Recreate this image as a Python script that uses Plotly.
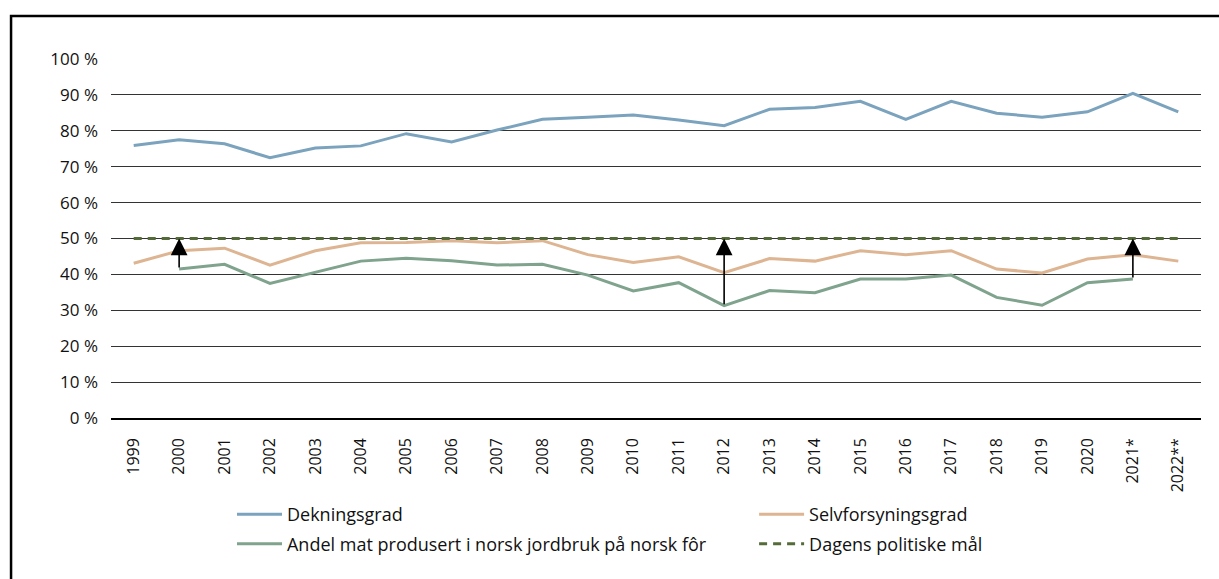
import plotly.graph_objects as go

years = ["1999", "2000", "2001", "2002", "2003", "2004", "2005", "2006", "2007", "2008",
         "2009", "2010", "2011", "2012", "2013", "2014", "2015", "2016", "2017", "2018",
         "2019", "2020", "2021*", "2022**"]

dekningsgrad = [75.9, 77.5, 76.4, 72.5, 75.2, 75.8, 79.2, 76.9, 80.2, 83.2,
                83.8, 84.4, 83.0, 81.4, 86.0, 86.5, 88.2, 83.2, 88.2, 84.9,
                83.8, 85.3, 90.4, 85.3]

selvforsyningsgrad = [43.1, 46.6, 47.3, 42.6, 46.6, 48.8, 48.9, 49.4, 48.8, 49.4,
                      45.5, 43.3, 44.9, 40.5, 44.4, 43.7, 46.6, 45.5, 46.6, 41.5,
                      40.4, 44.3, 45.5, 43.7]

andel_norsk_for = [None, 41.5, 42.8, 37.5, 40.5, 43.7, 44.5, 43.8, 42.6, 42.8,
                   39.8, 35.4, 37.7, 31.3, 35.5, 34.9, 38.7, 38.7, 39.8, 33.6,
                   31.4, 37.7, 38.7, None]

politisk_maal = [50.0] * 24

arrow_years = ["2000", "2012", "2021*"]

y_ticks = [0, 10, 20, 30, 40, 50, 60, 70, 80, 90, 100]
y_tick_labels = [f"{v} %" for v in y_ticks]

FONT = "Open Sans, Liberation Sans, sans-serif"

fig = go.Figure()
fig.add_trace(go.Scatter(x=years, y=dekningsgrad, name="Dekningsgrad", mode="lines",
                         line=dict(color="#7BA3BE", width=3), legend="legend", legendgroup="a"))
fig.add_trace(go.Scatter(x=years, y=selvforsyningsgrad, name="Selvforsyningsgrad", mode="lines",
                         line=dict(color="#DDB592", width=3), legend="legend2", legendgroup="b"))
fig.add_trace(go.Scatter(x=years, y=andel_norsk_for,
                         name="Andel mat produsert i norsk jordbruk på norsk fôr", mode="lines",
                         line=dict(color="#7FA38D", width=3), legend="legend", legendgroup="c"))
fig.add_trace(go.Scatter(x=years, y=politisk_maal, name="Dagens politiske mål", mode="lines",
                         line=dict(color="#556B3A", width=3, dash="8px,6px"),
                         legend="legend2", legendgroup="d"))

for yr in arrow_years:
    i = years.index(yr)
    fig.add_annotation(x=i, y=politisk_maal[i], ax=i, ay=andel_norsk_for[i],
                       xref="x", yref="y", axref="x", ayref="y",
                       showarrow=True, arrowhead=2, arrowsize=2.1, arrowwidth=1.6,
                       arrowcolor="#000000", text="")

# decorative frame (top and left border visible)
fig.add_shape(type="rect", xref="paper", yref="paper",
              x0=-0.0917, x1=1.05, y0=-0.6, y1=1.1198,
              line=dict(color="#000000", width=2.5), fillcolor="rgba(0,0,0,0)", layer="above")

legend_common = dict(orientation="v", yanchor="top", xanchor="left", traceorder="grouped",
                     font=dict(family=FONT, size=18, color="#111111"),
                     tracegroupgap=3, itemwidth=45, bgcolor="rgba(0,0,0,0)")

fig.update_layout(
    width=1219, height=579,
    margin=dict(l=111, r=18, t=59, b=161, autoexpand=False),
    paper_bgcolor="white", plot_bgcolor="white",
    font=dict(family=FONT, size=17, color="#111111"),
    showlegend=True,
    legend=dict(x=0.111, y=-0.2176, **legend_common),
    legend2=dict(x=0.590, y=-0.2176, **legend_common),
    xaxis=dict(type="category", range=[-0.5, len(years) - 0.5], tickangle=-90,
               showgrid=False, ticks="",
               showline=True, linecolor="#000000", linewidth=1.5,
               tickfont=dict(family=FONT, size=16, color="#111111"),
               ticklabelstandoff=12, fixedrange=True),
    yaxis=dict(range=[0, 100], tickvals=y_ticks, ticktext=y_tick_labels,
               showgrid=True, gridcolor="#333333", gridwidth=1.2, zeroline=False,
               ticks="", showline=False,
               tickfont=dict(family=FONT, size=17, color="#111111"),
               ticklabelstandoff=12, fixedrange=True),
)

fig.write_html("out.html", config={"displayModeBar": False},
               post_script="document.body.style.margin='0';")
